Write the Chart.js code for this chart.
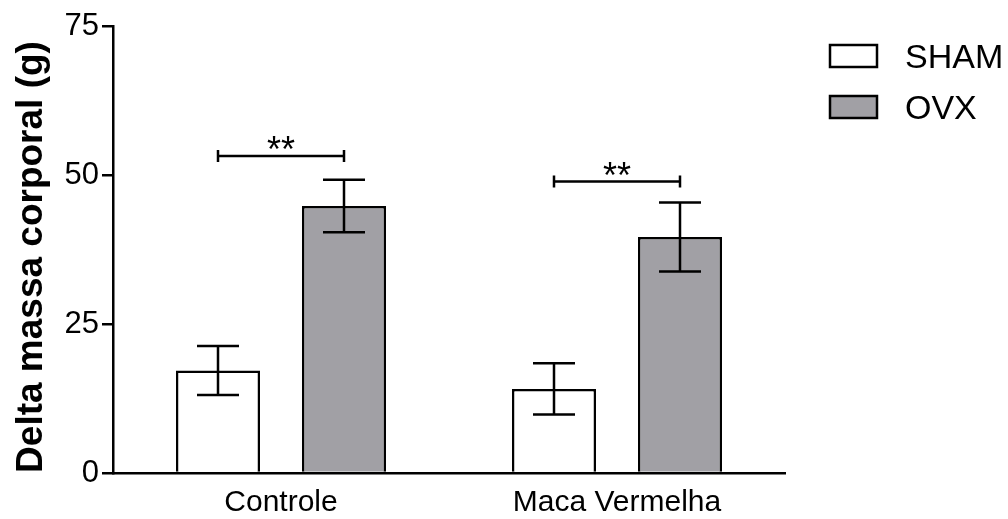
<!DOCTYPE html>
<html><head><meta charset="utf-8"><title>Delta massa corporal</title>
<script src="https://cdn.jsdelivr.net/npm/chart.js@4/dist/chart.umd.min.js"></script>
<style>
  html, body { margin: 0; padding: 0; background: #fff; }
  #wrap { width: 1008px; height: 519px; }
</style></head>
<body>
<div id="wrap"><canvas id="c" width="1008" height="519"></canvas></div>
<script>
// Values (mean ± error, grams).
const groups = ['Controle', 'Maca Vermelha'];
const shamMean = [17.2, 14.1];
const shamErr = [4.1, 4.3];
const ovxMean = [44.8, 39.6];
const ovxErr = [4.4, 5.8];
const yTicks = [0, 25, 50, 75];
// Significance brackets: category index, bracket height (axis units), mark.
const sigGroup = [0, 1];
const sigLevel = [53.2, 48.9];
const sigText = ['**', '**'];
const yTitle = 'Delta massa corporal (g)';

const FONT = '"Liberation Sans", Arial, sans-serif';
const INK = '#000';

// Error bars + significance brackets, drawn through the chart's own scales.
const extras = {
  id: 'extras',
  afterDatasetsDraw(chart) {
    const { ctx, scales: { y } } = chart;
    ctx.save();
    ctx.strokeStyle = INK;
    ctx.lineWidth = 2.5;
    chart.data.datasets.forEach((ds, di) => {
      chart.getDatasetMeta(di).data.forEach((bar, i) => {
        const top = y.getPixelForValue(ds.data[i] + ds.err[i]);
        const bot = y.getPixelForValue(ds.data[i] - ds.err[i]);
        const cap = 21;
        ctx.beginPath();
        ctx.moveTo(bar.x, top); ctx.lineTo(bar.x, bot);
        ctx.moveTo(bar.x - cap, top); ctx.lineTo(bar.x + cap, top);
        ctx.moveTo(bar.x - cap, bot); ctx.lineTo(bar.x + cap, bot);
        ctx.stroke();
      });
    });
    sigGroup.forEach((g, k) => {
      const x1 = chart.getDatasetMeta(0).data[g].x;
      const x2 = chart.getDatasetMeta(1).data[g].x;
      const yy = y.getPixelForValue(sigLevel[k]);
      ctx.beginPath();
      ctx.moveTo(x1, yy); ctx.lineTo(x2, yy);
      ctx.moveTo(x1, yy - 6); ctx.lineTo(x1, yy + 6);
      ctx.moveTo(x2, yy - 6); ctx.lineTo(x2, yy + 6);
      ctx.stroke();
      ctx.fillStyle = INK;
      ctx.font = `36px ${FONT}`;
      ctx.textAlign = 'center';
      ctx.textBaseline = 'alphabetic';
      ctx.fillText(sigText[k], (x1 + x2) / 2, yy + 6);
    });
    ctx.restore();
  },
};

// Legend boxes at the top right, plus the rotated y title, placed as in the figure.
const annotations = {
  id: 'annotations',
  afterDraw(chart) {
    const { ctx } = chart;
    ctx.save();
    chart.data.datasets.forEach((ds, i) => {
      const top = 45 + i * 51;
      ctx.fillStyle = ds.backgroundColor;
      ctx.fillRect(830, top, 47, 22);
      ctx.strokeStyle = INK;
      ctx.lineWidth = 2.5;
      ctx.strokeRect(830, top, 47, 22);
      ctx.fillStyle = INK;
      ctx.font = `34px ${FONT}`;
      ctx.textAlign = 'left';
      ctx.textBaseline = 'alphabetic';
      ctx.fillText(ds.label, 905, top + 23);
    });
    ctx.translate(31.5, 257);
    ctx.rotate(-Math.PI / 2);
    ctx.fillStyle = INK;
    ctx.font = `bold 37px ${FONT}`;
    ctx.textAlign = 'center';
    ctx.textBaseline = 'middle';
    ctx.fillText(yTitle, 0, 0);
    ctx.restore();
  },
};

new Chart(document.getElementById('c'), {
  type: 'bar',
  data: {
    labels: groups,
    datasets: [
      { label: 'SHAM', data: shamMean, err: shamErr, backgroundColor: '#ffffff' },
      { label: 'OVX', data: ovxMean, err: ovxErr, backgroundColor: '#a1a0a5' },
    ],
  },
  options: {
    responsive: false, animation: false, devicePixelRatio: 1,
    layout: { padding: { top: 26, right: 223, bottom: 0, left: 0 } },
    datasets: { bar: { borderColor: INK, borderWidth: 2.5, categoryPercentage: 0.75, barPercentage: 0.667 } },
    plugins: { legend: { display: false }, tooltip: { enabled: false } },
    scales: {
      x: {
        afterFit: s => { s.height = 46; },
        grid: { display: false },
        border: { color: INK, width: 2.5 },
        ticks: { color: INK, padding: 4, font: { family: FONT, size: 30 } },
      },
      y: {
        min: 0, max: 75,
        afterFit: s => { s.width = 113; },
        afterBuildTicks: s => { s.ticks = yTicks.map(v => ({ value: v })); },
        grid: { drawOnChartArea: false, drawTicks: true, tickLength: 11, color: INK, lineWidth: 2.5 },
        border: { color: INK, width: 2.5 },
        ticks: { color: INK, padding: 3, font: { family: FONT, size: 31 } },
      },
    },
  },
  plugins: [extras, annotations],
});
</script>
</body></html>
